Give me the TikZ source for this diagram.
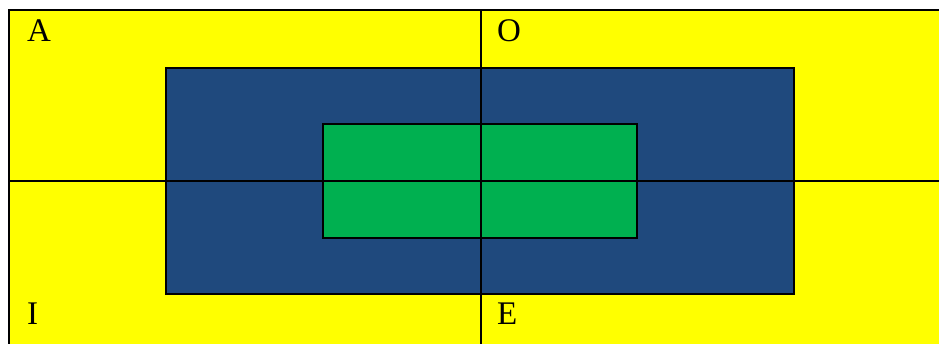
\documentclass[tikz,border=0pt]{standalone}
\usepackage{fontspec}
\setmainfont{Liberation Serif}
\definecolor{bgyellow}{HTML}{FFFF00}
\definecolor{midblue}{HTML}{1F497D}
\definecolor{ingreen}{HTML}{00B050}
\begin{document}
\begin{tikzpicture}[x=1pt,y=-1pt,
  edge/.style={draw=black,line width=2pt},
  lbl/.style={anchor=base west,inner sep=0pt,font=\fontsize{33}{33}\selectfont}]
\useasboundingbox (0,0) rectangle (939,343);
\filldraw[fill=bgyellow,edge] (9,10) rectangle (945,350);
\filldraw[fill=midblue,edge] (165.5,67.5) rectangle (794,293.5);
\filldraw[fill=ingreen,edge] (322.5,124) rectangle (636.5,237.5);
\draw[edge] (480.5,10) -- (480.5,345);
\draw[edge] (9,180.7) -- (945,180.7);
\node[lbl] (a) at (27,41.7) {A};
\node[lbl] (o) at (497,41) {O};
\node[lbl] (i) at (27,324) {I};
\node[lbl] (e) at (497,324) {E};
\end{tikzpicture}
\end{document}
